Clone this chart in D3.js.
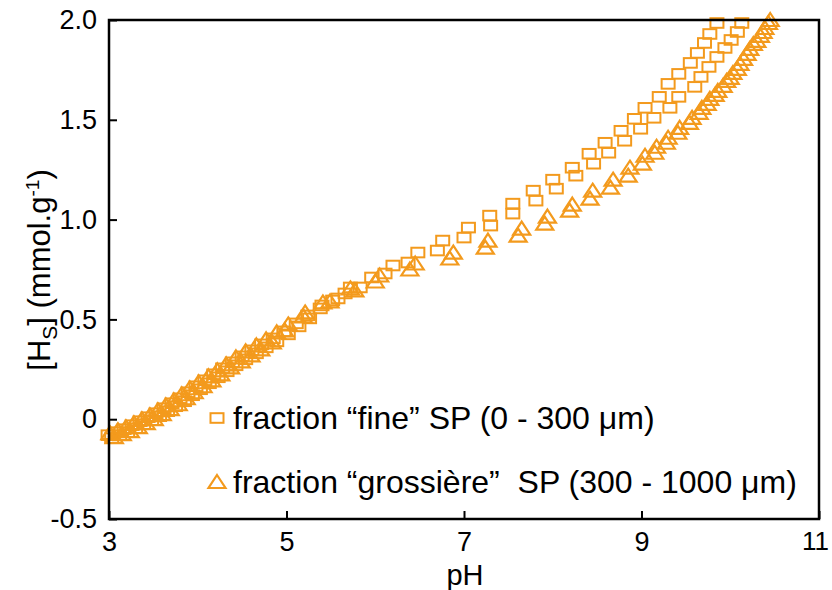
<!DOCTYPE html>
<html><head><meta charset="utf-8">
<script src="https://cdn.jsdelivr.net/npm/d3@7/dist/d3.min.js"></script>
<style>body{margin:0;background:#fff;} text{font-family:"Liberation Sans",Arial,sans-serif;white-space:pre;}</style>
</head><body>
<svg id="c" width="832" height="590"></svg>
<script>
// pH / [Hs] values
const fineA = [[2.99,-0.08],[3.08,-0.065],[3.17,-0.05],[3.26,-0.03],[3.35,-0.01],[3.44,0.01],[3.53,0.03],[3.62,0.055],[3.71,0.08],[3.80,0.105],[3.89,0.135],[3.98,0.165],[4.08,0.195],[4.18,0.225],[4.28,0.255],[4.39,0.285],[4.50,0.315],[4.61,0.345],[4.72,0.375],[4.85,0.405],[4.97,0.44],[5.11,0.48],[5.24,0.52],[5.40,0.57],[5.58,0.605],[5.72,0.66],[5.96,0.71],[6.20,0.77],[6.48,0.835],[6.76,0.895],[7.05,0.96],[7.29,1.02],[7.55,1.08],[7.78,1.145],[8.00,1.20],[8.22,1.26],[8.41,1.33],[8.59,1.385],[8.77,1.445],[8.92,1.505],[9.04,1.56],[9.20,1.615],[9.30,1.68],[9.42,1.73],[9.55,1.785],[9.63,1.835],[9.71,1.885],[9.77,1.93],[9.85,1.985]];
const fineB = [[3.03,-0.095],[3.12,-0.08],[3.21,-0.065],[3.30,-0.045],[3.39,-0.025],[3.48,-0.005],[3.57,0.015],[3.66,0.04],[3.75,0.065],[3.85,0.09],[3.94,0.12],[4.03,0.15],[4.13,0.18],[4.23,0.21],[4.33,0.24],[4.43,0.27],[4.54,0.30],[4.66,0.33],[4.77,0.36],[4.89,0.39],[5.02,0.425],[5.14,0.465],[5.26,0.505],[5.38,0.555],[5.52,0.595],[5.66,0.63],[5.83,0.66],[6.11,0.73],[6.37,0.785],[6.70,0.845],[7.00,0.91],[7.30,0.97],[7.55,1.03],[7.81,1.095],[8.04,1.155],[8.26,1.22],[8.46,1.28],[8.63,1.335],[8.81,1.395],[8.99,1.455],[9.14,1.51],[9.32,1.56],[9.42,1.615],[9.60,1.665],[9.67,1.715],[9.76,1.765],[9.85,1.815],[9.94,1.86],[10.01,1.90],[10.08,1.94],[10.13,1.985]];
const coarseA = [[3.01,-0.07],[3.10,-0.055],[3.19,-0.04],[3.28,-0.02],[3.37,0.0],[3.46,0.02],[3.55,0.045],[3.64,0.07],[3.73,0.095],[3.82,0.125],[3.91,0.155],[4.01,0.185],[4.12,0.215],[4.22,0.245],[4.32,0.275],[4.43,0.31],[4.54,0.34],[4.66,0.37],[4.77,0.40],[4.89,0.435],[5.02,0.475],[5.21,0.535],[5.41,0.585],[5.72,0.655],[6.05,0.72],[6.45,0.78],[6.88,0.835],[7.27,0.895],[7.65,0.955],[7.94,1.015],[8.22,1.075],[8.45,1.145],[8.68,1.20],[8.87,1.26],[9.04,1.32],[9.17,1.365],[9.30,1.41],[9.43,1.46],[9.57,1.51],[9.68,1.56],[9.77,1.605],[9.86,1.645],[9.96,1.695],[10.03,1.735],[10.11,1.78],[10.19,1.83],[10.26,1.88],[10.34,1.92],[10.39,1.96],[10.45,2.0]];
const coarseB = [[3.06,-0.09],[3.15,-0.075],[3.24,-0.06],[3.33,-0.04],[3.42,-0.02],[3.51,0.0],[3.60,0.025],[3.69,0.05],[3.78,0.075],[3.87,0.105],[3.96,0.135],[4.06,0.165],[4.16,0.195],[4.26,0.225],[4.37,0.26],[4.49,0.29],[4.60,0.32],[4.71,0.35],[4.84,0.385],[4.98,0.445],[5.19,0.515],[5.49,0.59],[5.77,0.645],[6.00,0.69],[6.39,0.75],[6.84,0.805],[7.24,0.86],[7.61,0.92],[7.91,0.98],[8.19,1.045],[8.42,1.105],[8.65,1.16],[8.85,1.22],[9.01,1.28],[9.15,1.335],[9.28,1.385],[9.41,1.435],[9.54,1.485],[9.65,1.535],[9.74,1.58],[9.83,1.625],[9.92,1.67],[10.00,1.71],[10.08,1.755],[10.15,1.805],[10.22,1.855],[10.30,1.895],[10.37,1.94],[10.43,1.985]];
const xTicks = [3,5,7,9,11];
const yTicks = [-0.5,0,0.5,1.0,1.5,2.0];
const yTickLabels = ["-0.5","0","0.5","1.0","1.5","2.0"];
const legendLabels = ["fraction \u201cfine\u201d SP (0 - 300 \u03bcm)", "fraction \u201cgrossi\u00e8re\u201d  SP (300 - 1000 \u03bcm)"];
const color = "#F39A1D";

const svg = d3.select("#c");
const x = d3.scaleLinear().domain([3,11]).range([109,819]);
const y = d3.scaleLinear().domain([-0.5,2]).range([519,20]);

const sq = (g) => g.append("rect").attr("x",-6.5).attr("y",-4.8).attr("width",13).attr("height",9.6)
  .attr("fill","none").attr("stroke",color).attr("stroke-width",2);
const tri = (g) => g.append("path").attr("d","M0,-7L8.5,6L-8.5,6Z")
  .attr("fill","none").attr("stroke",color).attr("stroke-width",2.2).attr("stroke-linejoin","miter");

function drawSeries(data, shape){
  const g = svg.append("g").selectAll("g").data(data).join("g")
    .attr("transform", d => `translate(${x(d[0])},${y(d[1])})`);
  g.each(function(){ shape(d3.select(this)); });
}
drawSeries(fineA, sq); drawSeries(fineB, sq);
drawSeries(coarseA, tri); drawSeries(coarseB, tri);

// axes
const ya = svg.append("g").attr("transform","translate(109,0)")
  .call(d3.axisLeft(y).tickValues(yTicks).tickSize(-8).tickSizeOuter(0).tickPadding(12)
    .tickFormat((d,i)=>yTickLabels[i]));
const xa = svg.append("g").attr("transform","translate(0,519)")
  .call(d3.axisBottom(x).tickValues(xTicks).tickSize(-8).tickSizeOuter(0).tickPadding(13));
[ya,xa].forEach(a=>{
  a.select(".domain").remove();
  a.selectAll(".tick line").attr("stroke","#000").attr("stroke-width",2);
  a.selectAll("text").attr("font-size",27).attr("fill","#000");
});
xa.selectAll(".tick text").filter(d=>d===11).attr("dx",-4).attr("font-size",26);
svg.append("rect").attr("x",109).attr("y",20).attr("width",710).attr("height",499)
  .attr("fill","none").attr("stroke","#000").attr("stroke-width",2.5);

svg.append("text").attr("x",465).attr("y",585).attr("text-anchor","middle").attr("font-size",29).text("pH");
const yt = svg.append("text").attr("transform","translate(50,270) rotate(-90)").attr("text-anchor","middle").attr("font-size",31);
yt.append("tspan").text("[H");
yt.append("tspan").attr("font-size",21).attr("dy",7).text("S");
yt.append("tspan").attr("dy",-7).text("] (mmol.g");
yt.append("tspan").attr("font-size",19).attr("dy",-11).text("-1");
yt.append("tspan").attr("dy",11).text(")");

// legend
const lg = svg.append("g");
const ly = [418,482];
legendLabels.forEach((t,i)=>{
  const g = lg.append("g").attr("transform",`translate(217,${ly[i]})`);
  (i===0?sq:tri)(g);
  lg.append("text").attr("x",233).attr("y",ly[i]+11).attr("font-size",32).text(t);
});
</script></body></html>
